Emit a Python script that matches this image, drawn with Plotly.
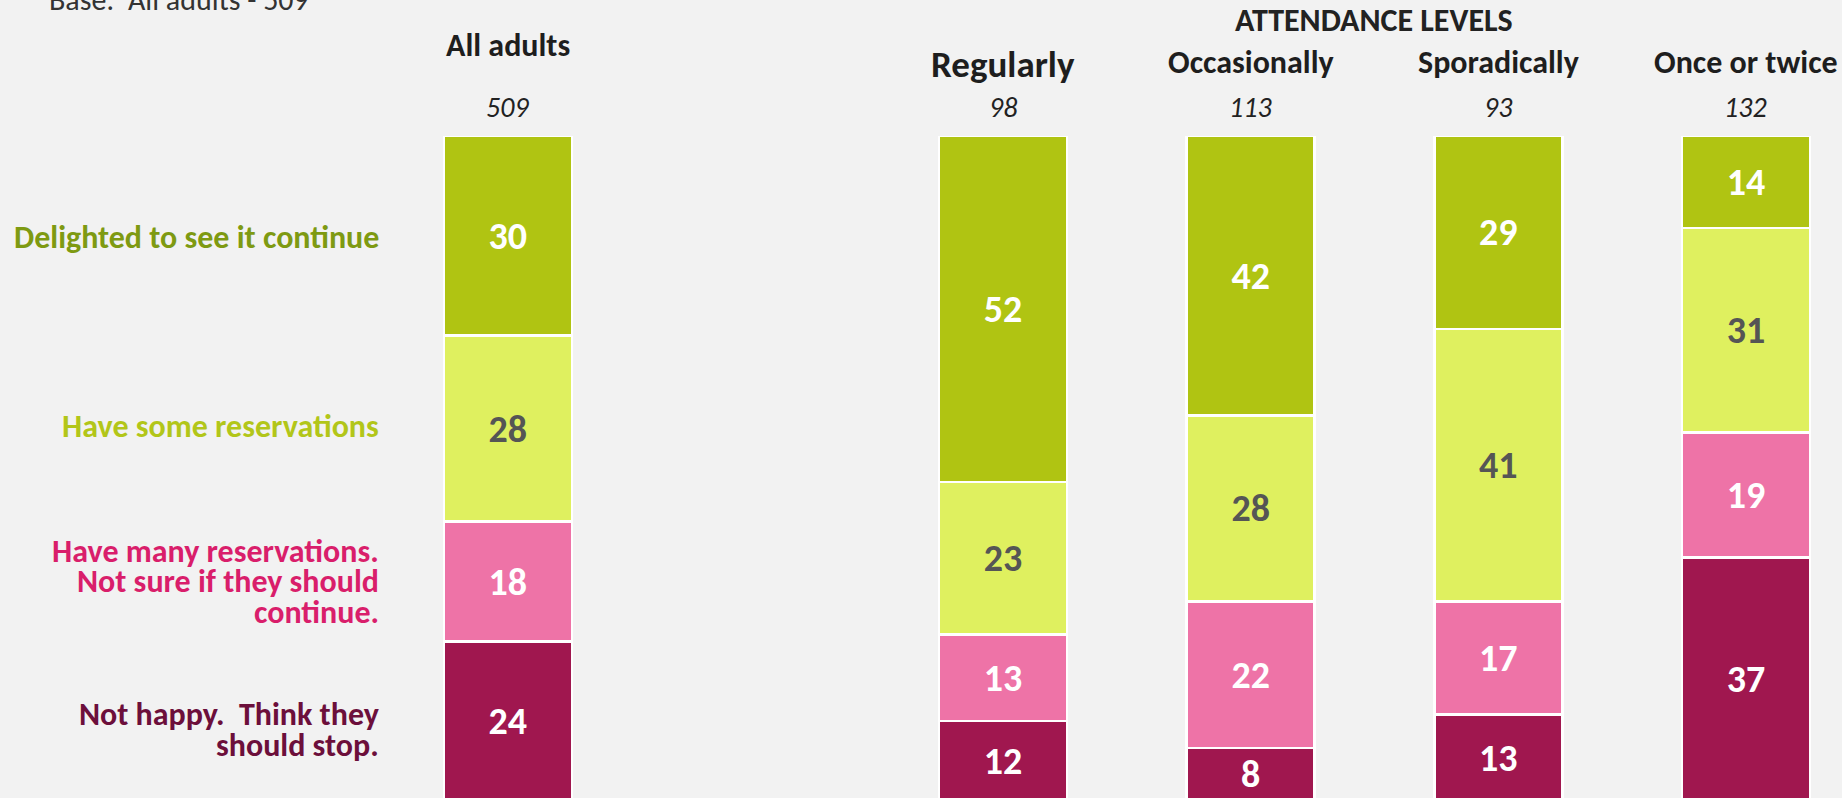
import plotly.graph_objects as go

# ---- data ----
groups = ["All adults", " ", "Regularly", "Occasionally", "Sporadically", "Once or twice"]
bases = ["509", "", "98", "113", "93", "132"]
series = ["Not happy.  Think they<br>should stop.",
          "Have many reservations.<br>Not sure if they should<br>continue.",
          "Have some reservations",
          "Delighted to see it continue"]
not_happy = [24, None, 12, 8, 13, 37]
many_res = [18, None, 13, 22, 17, 19]
some_res = [28, None, 23, 28, 41, 31]
delighted = [30, None, 52, 42, 29, 14]
values = [not_happy, many_res, some_res, delighted]

bar_colors = ["#A0174F", "#EE73A7", "#DFF05F", "#B0C412"]
num_colors = ["#FFFFFF", "#FFFFFF", "#555555", "#FFFFFF"]
label_colors = ["#6C0F3B", "#D91E6B", "#B2C619", "#7E9A12"]
label_nudge = [-9, 0, 2, -2]  # pixel nudges of left labels

FONT = "Carlito, Calibri, Lato, sans-serif"
W, H = 1842, 798
T, B, L, R = 136, 0, 384, 0
ph = H - T - B
pw = W - L - R

def py(pix):
    return (H - B - pix) / ph

fig = go.Figure()
for name, vals, bc, nc in zip(series, values, bar_colors, num_colors):
    fig.add_trace(go.Bar(
        x=groups, y=vals, name=name,
        marker=dict(color=bc, line=dict(color="white", width=2.5)),
        text=[("" if v is None else str(v)) for v in vals],
        textposition="inside", insidetextanchor="middle", textangle=0,
        textfont=dict(family=FONT, size=38, color=nc, weight="bold"),
        hoverinfo="skip",
    ))

annotations = []
# left-hand category labels centred on the "All adults" segments
LINE = 30.5
cum = 0
for name, vals, lc, nudge in zip(series, values, label_colors, label_nudge):
    v = vals[0]
    mid = cum + v / 2
    cum += v
    lines = name.split("<br>")
    n = len(lines)
    for k, ln in enumerate(lines):
        annotations.append(dict(
            x=(381 - L) / pw, xref="paper", y=mid, yref="y",
            yshift=((n - 1) / 2 - k) * LINE + nudge,
            text="<b>" + ln + "</b>", showarrow=False,
            xanchor="right", yanchor="middle", align="right",
            font=dict(family=FONT, size=32, color=lc)))

# headers
for i, (g, b) in enumerate(zip(groups, bases)):
    if g.strip() == "":
        continue
    if i == 0:
        ypix, size = 46, 32
    elif g == "Regularly":
        ypix, size = 64, 37
    else:
        ypix, size = 63, 32
    annotations.append(dict(x=g, xref="x", y=py(ypix), yref="paper",
                            text="<b>" + g + "</b>", showarrow=False,
                            xanchor="center", yanchor="middle",
                            font=dict(family=FONT, size=size, color="#1E1E1E")))
    annotations.append(dict(x=g, xref="x", y=py(107), yref="paper",
                            text="<i>" + b + "</i>", showarrow=False,
                            xanchor="center", yanchor="middle",
                            font=dict(family=FONT, size=28, color="#222222")))

annotations.append(dict(x=3.5, xref="x", y=py(21), yref="paper",
                        text="<b>ATTENDANCE LEVELS</b>", showarrow=False,
                        xanchor="center", yanchor="middle",
                        font=dict(family=FONT, size=32, color="#222222")))
annotations.append(dict(x=(47 - L) / pw, xref="paper", y=py(0), yref="paper",
                        text="Base:  All adults - 509", showarrow=False,
                        xanchor="left", yanchor="middle",
                        font=dict(family=FONT, size=30, color="#333333")))

fig.update_layout(
    width=W, height=H,
    margin=dict(l=L, r=R, t=T, b=B, pad=0),
    paper_bgcolor="#F2F2F2", plot_bgcolor="#F2F2F2",
    barmode="stack", barnorm="percent", bargap=0.483,
    showlegend=False, hovermode=False,
    xaxis=dict(type="category", categoryorder="array", categoryarray=groups,
               range=[-0.5, 5.388], showticklabels=False, showgrid=False,
               zeroline=False, showline=False, ticks=""),
    yaxis=dict(range=[0.45, 100], visible=False, showgrid=False, zeroline=False),
    annotations=annotations,
)

fig.write_html(
    "out.html",
    config={"displayModeBar": False},
    post_script="document.body.style.margin='0';document.body.style.background='#F2F2F2';",
)
